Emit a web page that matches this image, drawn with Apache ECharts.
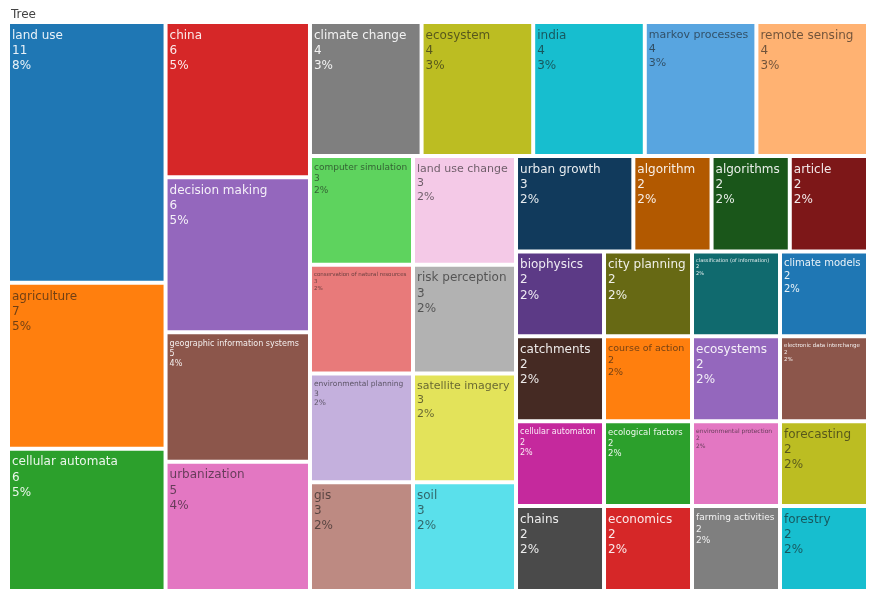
<!DOCTYPE html>
<html>
<head>
<meta charset="utf-8">
<script src="https://cdn.jsdelivr.net/npm/echarts@6/dist/echarts.min.js"></script>
<style>
html,body{margin:0;padding:0;background:#fff;}
#chart{width:878px;height:602px;}
</style>
</head>
<body>
<div id="chart"></div>
<script>
// ---- data (value desc, then alphabetical) ----
const categories = [
  "land use", "agriculture", "cellular automata", "china", "decision making",
  "geographic information systems", "urbanization",
  "climate change", "ecosystem", "india", "markov processes", "remote sensing",
  "computer simulation", "conservation of natural resources", "environmental planning", "gis",
  "land use change", "risk perception", "satellite imagery", "soil", "urban growth",
  "algorithm", "algorithms", "article", "biophysics", "catchments", "cellular automaton",
  "chains", "city planning", "classification (of information)", "climate models",
  "course of action", "ecological factors", "economics", "ecosystems",
  "electronic data interchange", "environmental protection", "farming activities",
  "forecasting", "forestry"
];
const counts = [
  11, 7, 6, 6, 6,
  5, 5,
  4, 4, 4, 4, 4,
  3, 3, 3, 3,
  3, 3, 3, 3, 3,
  2, 2, 2, 2, 2, 2,
  2, 2, 2, 2,
  2, 2, 2, 2,
  2, 2, 2,
  2, 2
];

// ---- styles ----
const palette = [
  "#1f77b4", "#ff7f0e", "#2ca02c", "#d62728", "#9467bd", "#8c564b", "#e377c2", "#7f7f7f", "#bcbd22", "#17becf",
  "#58a5e0", "#ffb272", "#5ed35e", "#e87a7a", "#c4b0dd", "#bd8a82", "#f4c9e7", "#b2b2b2", "#e3e35a", "#5ae0eb",
  "#113a5c", "#b25900", "#1a561a", "#7d1718", "#5c3a86", "#452a23", "#c5299d", "#4a4a4a", "#676914", "#106a6e",
  "#1f77b4", "#ff7f0e", "#2ca02c", "#d62728", "#9467bd", "#8c564b", "#e377c2", "#7f7f7f", "#bcbd22", "#17becf"
];
const FONT = '"DejaVu Sans", Verdana, sans-serif';
const BASE_FS = 12;
const BORDER = 2;

const total = counts.reduce((a, b) => a + b, 0);
function pct(v) { return Math.round(v / total * 100) + '%'; }
function lin(c) { c /= 255; return c <= 0.03928 ? c / 12.92 : Math.pow((c + 0.055) / 1.055, 2.4); }
function lum(hex) {
  const r = parseInt(hex.slice(1, 3), 16), g = parseInt(hex.slice(3, 5), 16), b = parseInt(hex.slice(5, 7), 16);
  return 0.2126 * lin(r) + 0.7152 * lin(g) + 0.0722 * lin(b);
}
function textColor(hex) { return lum(hex) > 0.3 ? 'rgba(25,25,25,0.62)' : 'rgba(255,255,255,0.9)'; }

function buildData(sizes) {
  return categories.map((name, i) => {
    const fs = sizes && sizes[name] ? sizes[name] : BASE_FS;
    return {
      name: name,
      value: counts[i],
      itemStyle: { color: palette[i] },
      label: { color: textColor(palette[i]), fontSize: fs, lineHeight: Math.round(fs * 1.27 * 10) / 10 }
    };
  });
}

const chart = echarts.init(document.getElementById('chart'), null, { renderer: 'canvas' });

function makeOption(data) {
  return {
    animation: false,
    title: {
      text: 'Tree', left: 6, top: 4,
      textStyle: { fontSize: 12, fontWeight: 'normal', color: '#444', fontFamily: FONT }
    },
    tooltip: { show: false },
    series: [{
      type: 'treemap',
      left: 8, top: 22, width: 860, height: 569,
      sort: false,
      squareRatio: 1,
      roam: false,
      nodeClick: false,
      visibleMin: 0,
      breadcrumb: { show: false },
      levels: [
        { itemStyle: { borderWidth: 0, gapWidth: 0 } },
        { itemStyle: { borderWidth: BORDER, borderColor: '#fff', gapWidth: 0 } }
      ],
      label: {
        show: true,
        position: 'insideTopLeft',
        distance: 0,
        padding: [4, 2, 0, 2],
        fontFamily: FONT,
        overflow: 'none',
        formatter: p => p.name + '\n' + p.value + '\n' + pct(p.value)
      },
      data: data
    }]
  };
}

chart.setOption(makeOption(buildData(null)));

// shrink text to fit each tile's width (like the reference)
try {
  const seriesModel = chart.getModel().getSeriesByIndex(0);
  const root = seriesModel.getData().tree.root;
  const ctx = document.createElement('canvas').getContext('2d');
  ctx.font = BASE_FS + 'px ' + FONT;
  const sizes = {};
  root.children.forEach(node => {
    const lay = node.getLayout();
    if (!lay) return;
    const v = node.getValue();
    const w = Math.max(ctx.measureText(node.name).width, ctx.measureText(String(v)).width, ctx.measureText(pct(v)).width);
    const avail = lay.width - 2 * BORDER - 5;
    let fs = Math.min(BASE_FS, BASE_FS * avail / w);
    fs = Math.floor(fs * 2) / 2;
    sizes[node.name] = Math.max(fs, 4);
  });
  chart.setOption(makeOption(buildData(sizes)));
} catch (e) { console.error(e); }
</script>
</body>
</html>
